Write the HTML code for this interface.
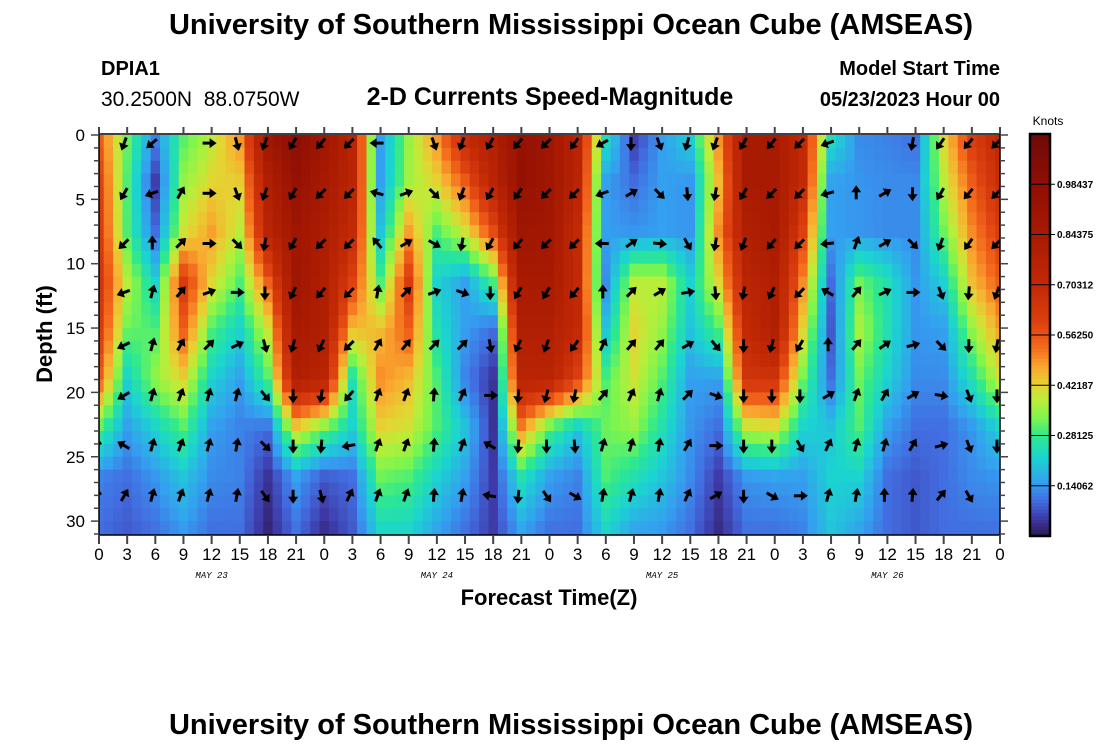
<!DOCTYPE html>
<html><head><meta charset="utf-8">
<style>
html,body{margin:0;padding:0;background:#fff;}
svg{display:block;font-family:"Liberation Sans",sans-serif;}
</style></head>
<body>
<svg id="chart" width="1100" height="750" viewBox="0 0 1100 750">
<text x="571" y="34" text-anchor="middle" font-size="29" font-weight="bold">University of Southern Mississippi Ocean Cube (AMSEAS)</text>
<text x="101" y="75" font-size="20" font-weight="bold">DPIA1</text>
<text x="101" y="106" font-size="21" xml:space="preserve" style="white-space:pre">30.2500N  88.0750W</text>
<text x="550" y="105" text-anchor="middle" font-size="25" font-weight="bold">2-D Currents Speed-Magnitude</text>
<text x="1000" y="75" text-anchor="end" font-size="20" font-weight="bold">Model Start Time</text>
<text x="1000" y="106" text-anchor="end" font-size="20" font-weight="bold">05/23/2023 Hour 00</text>
<g id="heat"></g>
<g id="arrows"></g>
<g id="axes"></g>
<g id="cbar"></g>
<text x="52" y="334" text-anchor="middle" font-size="22" font-weight="bold" transform="rotate(-90 52 334)">Depth (ft)</text>
<text x="549" y="605" text-anchor="middle" font-size="22" font-weight="bold">Forecast Time(Z)</text>
<text x="571" y="734" text-anchor="middle" font-size="29" font-weight="bold">University of Southern Mississippi Ocean Cube (AMSEAS)</text>
</svg>
<script>
// ---- data ----
const hours = [0,3,6,9,12,15,18,21,24,27,30,33,36,39,42,45,48,51,54,57,60,63,66,69,72,75,78,81,84,87,90,93,96];
const depths = [0,3.7,7.5,11.4,15.1,19,22.8,26.6,31];
// speed (knots) per time column, listed top->bottom per depth level
const speed = [
[.55,.6,.62,.65,.62,.55,.3,.12,.1],
[.32,.3,.3,.38,.32,.22,.15,.1,.08],
[.13,.05,.1,.22,.3,.35,.22,.14,.1],
[.3,.35,.4,.62,.55,.42,.3,.2,.14],
[.38,.42,.48,.42,.3,.22,.15,.13,.1],
[.5,.43,.38,.3,.22,.15,.12,.12,.1],
[.9,.8,.75,.55,.4,.3,.1,.04,.02],
[1.0,.95,.9,.9,.85,.8,.42,.15,.1],
[.9,.85,.82,.8,.8,.75,.32,.08,.03],
[.75,.75,.7,.6,.45,.25,.22,.1,.08],
[.15,.15,.2,.3,.45,.5,.42,.32,.22],
[.35,.36,.48,.62,.55,.45,.4,.3,.22],
[.5,.42,.3,.22,.25,.3,.3,.22,.15],
[.7,.55,.4,.15,.15,.12,.2,.15,.1],
[.8,.75,.58,.3,.1,.04,.04,.05,.05],
[.95,.95,.9,.85,.8,.75,.5,.25,.15],
[.9,.9,.88,.85,.8,.75,.3,.15,.1],
[.75,.75,.7,.7,.7,.6,.2,.12,.1],
[.25,.15,.15,.13,.2,.3,.32,.3,.22],
[.05,.1,.14,.38,.42,.4,.35,.25,.15],
[.15,.15,.15,.38,.35,.3,.25,.2,.14],
[.22,.14,.14,.22,.2,.15,.14,.13,.1],
[.5,.45,.5,.42,.3,.15,.1,.05,.03],
[.85,.85,.8,.75,.7,.65,.38,.14,.1],
[.85,.85,.85,.8,.8,.65,.4,.15,.1],
[.7,.7,.6,.5,.42,.32,.22,.15,.12],
[.25,.15,.15,.1,.08,.1,.2,.22,.2],
[.13,.14,.14,.32,.37,.32,.3,.22,.15],
[.12,.13,.13,.25,.25,.22,.15,.1,.1],
[.1,.13,.13,.14,.14,.13,.1,.08,.08],
[.42,.38,.32,.22,.15,.13,.1,.1,.1],
[.62,.55,.5,.45,.35,.25,.14,.13,.1],
[.72,.68,.62,.55,.48,.4,.22,.14,.1]
];
const arrowDepths = [0.4,4.3,8.2,12,16.1,20,23.9,27.8];
// arrow direction (deg, 0=up/north) per time column, per arrow depth; null = none
const dirs = [
[null,null,null,null,null,null,240,240],
[200,210,225,250,245,240,300,30],
[230,250,0,15,15,15,15,15],
[null,30,45,40,30,20,20,20],
[90,90,90,70,45,15,15,15],
[165,160,135,90,65,15,10,10],
[200,200,190,180,165,140,135,145],
[210,210,210,205,195,180,180,180],
[220,225,225,220,205,190,185,165],
[225,225,225,225,225,220,260,25],
[270,285,320,10,30,20,20,20],
[null,70,60,45,40,20,20,20],
[160,135,120,70,45,5,5,5],
[200,200,190,110,45,25,20,10],
[210,210,210,180,170,90,300,280],
[220,215,220,210,205,185,185,185],
[225,225,225,210,200,195,180,145],
[215,225,225,220,215,190,175,120],
[240,250,270,0,25,40,15,10],
[180,60,55,45,40,25,15,15],
[160,135,95,60,40,15,10,10],
[195,175,150,80,60,45,30,25],
[200,190,190,175,140,110,90,60],
[210,210,200,190,180,180,180,180],
[220,225,220,205,195,180,180,120],
[225,225,225,225,210,180,150,90],
[250,255,265,300,0,60,25,15],
[null,0,20,40,40,20,15,10],
[null,60,60,65,55,30,15,0],
[190,180,135,90,75,60,30,5],
[215,210,200,160,135,100,75,40],
[220,220,215,185,180,160,160,150],
[225,225,225,200,190,180,180,null]
];
const xTicks = ["0","3","6","9","12","15","18","21","0","3","6","9","12","15","18","21","0","3","6","9","12","15","18","21","0","3","6","9","12","15","18","21","0"];
const yTicks = [0,5,10,15,20,25,30];
const dayLabels = ["MAY 23","MAY 24","MAY 25","MAY 26"];
const cbarTicks = [0.14062,0.28125,0.42187,0.5625,0.70312,0.84375,0.98437];
const cbarLabels = ["0.14062","0.28125","0.42187","0.56250","0.70312","0.84375","0.98437"];

// ---- scales ----
const X0=99, X1=1000, Y0=134, Y1=535;
const HMAX=96, DMAX=31.1, VMAX=1.125;
const xs = h => X0 + (h/HMAX)*(X1-X0);
const ys = d => 135 + d*12.87;
const NS="http://www.w3.org/2000/svg";
function mk(tag, attrs, parent){const e=document.createElementNS(NS,tag);for(const k in attrs)e.setAttribute(k,attrs[k]);parent.appendChild(e);return e;}

const stops=[[0,[45,24,80]],[0.05,[62,58,168]],[0.1,[66,110,225]],[0.15,[52,160,240]],[0.22,[27,212,208]],[0.28,[46,232,143]],[0.33,[124,245,78]],[0.38,[184,238,58]],[0.42,[227,213,50]],[0.47,[249,171,48]],[0.53,[244,106,28]],[0.6,[221,64,16]],[0.7,[194,42,5]],[0.85,[168,26,2]],[1.0,[140,14,4]],[1.125,[110,10,8]]];
function cmap(v){v=Math.max(0,Math.min(VMAX,v));for(let i=1;i<stops.length;i++){if(v<=stops[i][0]){const a=stops[i-1],b=stops[i];const t=(v-a[0])/(b[0]-a[0]);const c=a[1].map((x,j)=>Math.round(x+(b[1][j]-x)*t));return `rgb(${c[0]},${c[1]},${c[2]})`;}}return 'rgb(110,10,8)';}
function seg(arr,v){for(let i=0;i<arr.length-1;i++){if(v<=arr[i+1])return [i,(v-arr[i])/(arr[i+1]-arr[i])];}return [arr.length-2,1];}
function sample(h,d){const [i,tx]=seg(hours,h);const [j,ty]=seg(depths,d);
 const a=speed[i][j],b=speed[i+1][j],c=speed[i][j+1],e=speed[i+1][j+1];
 return (a*(1-tx)+b*tx)*(1-ty)+(c*(1-tx)+e*tx)*ty;}

// ---- heatmap ----
const heat=document.getElementById('heat');
const clip=mk('clipPath',{id:'plotclip'},heat);
mk('rect',{x:X0,y:Y0,width:X1-X0,height:Y1-Y0},clip);
const hg=mk('g',{'clip-path':'url(#plotclip)'},heat);
for(let h=0;h<=HMAX;h++){
 for(let d=0;d<32;d++){
  const v=sample(h,Math.min(d+0.5,31));
  const x=xs(h-0.5), y=ys(d);
  const r=mk('rect',{x:x.toFixed(2),y:y.toFixed(2),width:(xs(1)-xs(0)+0.6).toFixed(2),height:13.5,fill:cmap(v)},hg);
  
  
 }
}

// ---- arrows ----
const ag=mk('g',{'clip-path':'url(#plotclip)'},document.getElementById('arrows'));
dirs.forEach((col,i)=>{col.forEach((ang,j)=>{
 if(ang===null)return;
 const cx=xs(hours[i])-3, cy=ys(arrowDepths[j])+3;
 const g=mk('g',{transform:`translate(${cx.toFixed(1)},${cy.toFixed(1)}) rotate(${ang})`},ag);
 
 
 mk('line',{x1:0,y1:6,x2:0,y2:-3,stroke:'#000','stroke-width':3},g);
 mk('polygon',{points:'0,-8 -5,-1 5,-1',fill:'#000'},g);
});});

// ---- axes ----
const ax=document.getElementById('axes');
const frame=mk('rect',{x:X0,y:Y0,width:X1-X0,height:Y1-Y0,fill:'none',stroke:'#000','stroke-width':1.5},ax);


xTicks.forEach((lab,i)=>{
 const x=xs(hours[i]);
 mk('line',{x1:x,y1:Y1,x2:x,y2:Y1+9,stroke:'#444','stroke-width':2},ax);
 mk('line',{x1:x,y1:Y0,x2:x,y2:Y0-7,stroke:'#444','stroke-width':2},ax);
 const t=mk('text',{x:x,y:Y1+25,'text-anchor':'middle','font-size':17},ax);
 t.textContent=lab;
 
 
});
dayLabels.forEach((lab,i)=>{
 const t=mk('text',{x:xs(12+24*i),y:578,'text-anchor':'middle','font-size':9,'font-style':'italic','font-family':'Liberation Mono, monospace'},ax);
 t.textContent=lab;
 
 
});
for(let d=0;d<=31;d++){
 const y=ys(d);
 const major=d%5===0;
 mk('line',{x1:X0-(major?8:5),y1:y,x2:X0,y2:y,stroke:'#444','stroke-width':1.5},ax);
 mk('line',{x1:X1,y1:y,x2:X1+(major?8:5),y2:y,stroke:'#444','stroke-width':1.5},ax);
}
yTicks.forEach(d=>{
 const t=mk('text',{x:X0-14,y:ys(d)+6,'text-anchor':'end','font-size':17},ax);
 t.textContent=String(d);
 
 
});

// ---- colorbar ----
const cb=document.getElementById('cbar');
const CX=1030,CW=20,CY0=134,CY1=536;
const cys=v=>CY1-(v/VMAX)*(CY1-CY0);
for(let k=0;k<120;k++){
 const v0=k*VMAX/120,v1=(k+1)*VMAX/120;
 mk('rect',{x:CX,y:cys(v1).toFixed(2),width:CW,height:(cys(v0)-cys(v1)+0.5).toFixed(2),fill:cmap((v0+v1)/2)},cb);
}
mk('rect',{x:CX,y:CY0,width:CW,height:CY1-CY0,fill:'none',stroke:'#000','stroke-width':2.5},cb);
cbarTicks.forEach((v,i)=>{
 const y=cys(v);
 mk('line',{x1:CX,y1:y,x2:CX+CW+5,y2:y,stroke:'#000','stroke-width':1},cb);
 const t=mk('text',{x:CX+27,y:y+3.5,'font-size':10,'font-weight':'bold'},cb);
 t.textContent=cbarLabels[i];
 
 
});
const kt=mk('text',{x:1048,y:125,'text-anchor':'middle','font-size':12},cb);
kt.textContent='Knots';


</script>
</body></html>
